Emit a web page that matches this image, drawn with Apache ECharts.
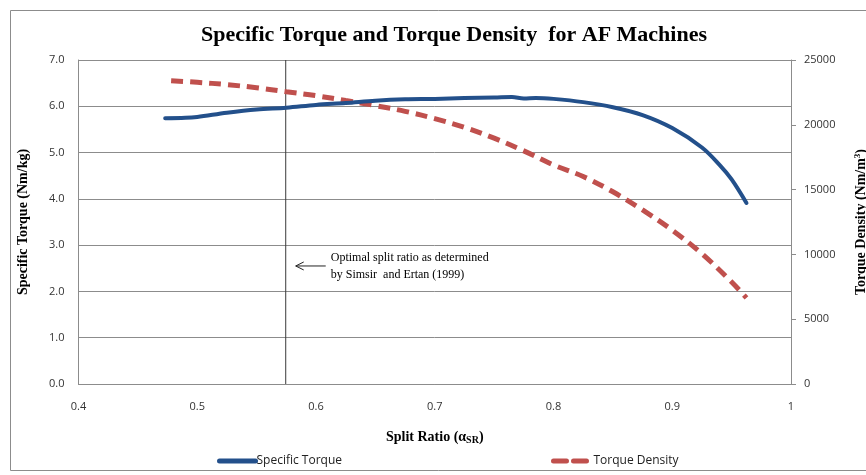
<!DOCTYPE html>
<html>
<head>
<meta charset="utf-8">
<script src="https://cdn.jsdelivr.net/npm/echarts@6/dist/echarts.min.js"></script>
<style>
  html, body { margin: 0; padding: 0; background: #ffffff; overflow: hidden; }
  #chart { width: 866px; height: 475px; }
</style>
</head>
<body>
<div id="chart"></div>
<script>
// Split ratio samples for the specific torque curve (Nm/kg)
const stRatio  = [0.473, 0.49, 0.5, 0.525, 0.55, 0.575, 0.6, 0.625, 0.65, 0.675, 0.7, 0.725, 0.75, 0.765, 0.775, 0.785, 0.8, 0.825, 0.85, 0.875, 0.9, 0.925, 0.94, 0.95, 0.9625];
const stValues = [5.74, 5.75, 5.77, 5.86, 5.93, 5.97, 6.03, 6.07, 6.12, 6.15, 6.16, 6.18, 6.19, 6.20, 6.17, 6.18, 6.16, 6.09, 5.98, 5.81, 5.53, 5.11, 4.73, 4.42, 3.91];

// Split ratio samples for the torque density curve (Nm/m^3)
const tdRatio  = [0.478, 0.5, 0.525, 0.55, 0.575, 0.6, 0.625, 0.65, 0.675, 0.7, 0.725, 0.75, 0.775, 0.8, 0.825, 0.85, 0.875, 0.9, 0.925, 0.95, 0.9625];
const tdValues = [23400, 23280, 23100, 22860, 22550, 22245, 21870, 21480, 21040, 20480, 19800, 18970, 17990, 16900, 16010, 14830, 13430, 11870, 10050, 7870, 6640];

// Optimal split ratio reported by Simsir and Ertan (1999)
const optimalRatio = 0.5745;

// Axis tick settings
const xTicks  = { min: 0.4, max: 1.0, step: 0.1 };
const yLeft   = { min: 0, max: 7, step: 1 };
const yRight  = { min: 0, max: 25000, step: 5000 };

const seriesST = stRatio.map((r, i) => [r, stValues[i]]);
const seriesTD = tdRatio.map((r, i) => [r, tdValues[i]]);
const optimalLine = [[optimalRatio, yLeft.min], [optimalRatio, yLeft.max]];

const BLUE = '#23508b';
const RED = '#c0504d';
const GRID = '#8c8c8c';
const SERIF = '"Liberation Serif", "Times New Roman", serif';
const SANS = '"Open Sans", "Noto Sans", sans-serif';

const chart = echarts.init(document.getElementById('chart'), null, { renderer: 'canvas' });

const legendText = { fontFamily: SANS, fontSize: 12, color: '#222', padding: [0, 0, 0, -4] };

chart.setOption({
  animation: false,
  backgroundColor: '#ffffff',
  title: {
    text: 'Specific Torque and Torque Density  for AF Machines',
    left: 449, top: 19, textAlign: 'center',
    textStyle: { fontFamily: SERIF, fontWeight: 'bold', fontSize: 22, color: '#000' }
  },
  grid: { left: 78.5, right: 75, top: 60, bottom: 91, containLabel: false, outerBoundsMode: 'none' },
  legend: [
    {
      data: ['Specific Torque'], left: 212, top: 450,
      itemWidth: 36, itemHeight: 12,
      itemStyle: { opacity: 0 },
      lineStyle: { width: 5, cap: 'round', color: BLUE },
      textStyle: legendText
    },
    {
      data: ['Torque Density'], left: 546, top: 450,
      itemWidth: 36, itemHeight: 12,
      itemStyle: { opacity: 0 },
      lineStyle: { width: 5, type: [13, 7], cap: 'round', color: RED },
      textStyle: { fontFamily: SANS, fontSize: 12, color: '#222', padding: [0, 0, 0, -1] }
    }
  ],
  xAxis: {
    type: 'value', min: xTicks.min, max: xTicks.max, interval: xTicks.step,
    name: '{a|Split Ratio (α}{s|SR}{a|)}',
    nameLocation: 'middle', nameGap: 45,
    nameTextStyle: {
      rich: {
        a: { fontFamily: SERIF, fontWeight: 'bold', fontSize: 14, color: '#000' },
        s: { fontFamily: SERIF, fontWeight: 'bold', fontSize: 10, color: '#000', verticalAlign: 'bottom', padding: [6, 0, 0, 0] }
      }
    },
    axisLine: { lineStyle: { color: GRID, width: 1 } },
    axisTick: { show: false },
    splitLine: { show: false },
    axisLabel: {
      margin: 17, fontFamily: SANS, fontSize: 11, color: '#333',
      formatter: v => String(+v.toFixed(1))
    }
  },
  yAxis: [
    {
      type: 'value', min: yLeft.min, max: yLeft.max, interval: yLeft.step,
      name: 'Specific Torque (Nm/kg)', nameLocation: 'middle', nameGap: 48, nameRotate: 90,
      nameTextStyle: { fontFamily: SERIF, fontWeight: 'bold', fontSize: 14, color: '#000' },
      axisLine: { show: true, lineStyle: { color: GRID } },
      axisTick: { show: false },
      splitLine: { show: true, lineStyle: { color: GRID, width: 1 } },
      axisLabel: { margin: 14, fontFamily: SANS, fontSize: 11, color: '#333', formatter: v => v.toFixed(1) }
    },
    {
      type: 'value', min: yRight.min, max: yRight.max, interval: yRight.step, position: 'right',
      name: '{a|Torque Density (Nm/m}{s|3}{a|)}', nameLocation: 'middle', nameGap: 62, nameRotate: 90,
      nameTextStyle: {
        rich: {
          a: { fontFamily: SERIF, fontWeight: 'bold', fontSize: 14, color: '#000' },
          s: { fontFamily: SERIF, fontWeight: 'bold', fontSize: 9, color: '#000', verticalAlign: 'top', padding: [0, 0, 7, 0] }
        }
      },
      axisLine: { show: true, lineStyle: { color: GRID } },
      axisTick: { show: true, inside: false, length: 5, lineStyle: { color: GRID } },
      splitLine: { show: false },
      axisLabel: { margin: 13, fontFamily: SANS, fontSize: 11, color: '#333', formatter: v => String(v) }
    }
  ],
  series: [
    {
      name: 'Specific Torque', type: 'line', yAxisIndex: 0,
      data: seriesST, symbol: 'none', smooth: 0.35,
      lineStyle: { color: BLUE, width: 4, cap: 'round', join: 'round' },
      itemStyle: { color: BLUE },
      z: 3
    },
    {
      name: 'Torque Density', type: 'line', yAxisIndex: 1,
      data: seriesTD, symbol: 'none', smooth: 0.35,
      lineStyle: { color: RED, width: 5, type: [12, 7], cap: 'butt' },
      itemStyle: { color: RED },
      z: 2
    },
    {
      // vertical marker at the optimal split ratio
      name: 'optimal', type: 'line', yAxisIndex: 0,
      data: optimalLine, symbol: 'none', silent: true,
      lineStyle: { color: '#3a3a3a', width: 1 },
      z: 1
    }
  ]
});

// Annotation: arrow pointing at the optimal split-ratio marker, plus caption and outer frame
const tip = chart.convertToPixel({ xAxisIndex: 0, yAxisIndex: 0 }, [optimalRatio, 2.55]);
const ax = tip[0] + 10, ay = tip[1];
chart.setOption({
  graphic: [
    {
      type: 'rect', silent: true, z: -1,
      shape: { x: 10.5, y: 10.5, width: 880, height: 460 },
      style: { fill: 'none', stroke: '#8c8c8c', lineWidth: 1 }
    },
    {
      type: 'polyline', silent: true,
      shape: { points: [[ax + 30, ay], [ax, ay]] },
      style: { stroke: '#222', lineWidth: 1, fill: 'none' }
    },
    {
      type: 'polyline', silent: true,
      shape: { points: [[ax + 8, ay - 4], [ax, ay], [ax + 8, ay + 4]] },
      style: { stroke: '#222', lineWidth: 1, fill: 'none' }
    },
    {
      type: 'text', silent: true,
      x: ax + 35, y: ay - 17,
      style: {
        text: 'Optimal split ratio as determined\nby Simsir  and Ertan (1999)',
        fontFamily: SERIF, fontSize: 12, lineHeight: 17, fill: '#000'
      }
    }
  ]
});
</script>
</body>
</html>
